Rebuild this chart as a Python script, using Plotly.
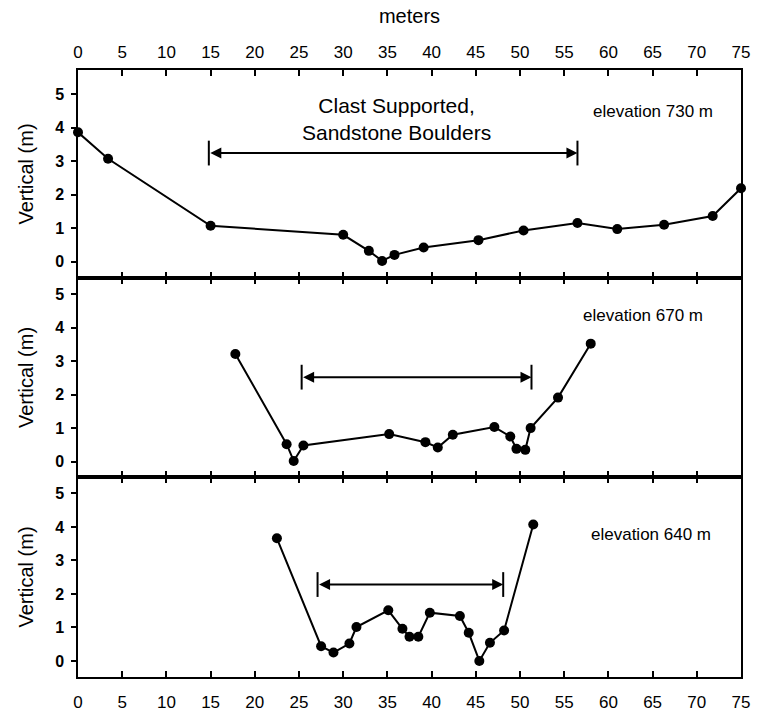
import plotly.graph_objects as go

# ---------------- data ----------------
x_730 = [0, 3.4, 15.0, 30.0, 32.9, 34.4, 35.8, 39.1, 45.3, 50.4, 56.5, 61.0, 66.3, 71.8, 75.0]
y_730 = [3.86, 3.07, 1.07, 0.80, 0.32, 0.02, 0.20, 0.42, 0.64, 0.93, 1.15, 0.97, 1.10, 1.36, 2.19]

x_670 = [17.8, 23.6, 24.4, 25.5, 35.2, 39.3, 40.7, 42.4, 47.1, 48.9, 49.6, 50.6, 51.2, 54.3, 58.0]
y_670 = [3.21, 0.52, 0.02, 0.48, 0.82, 0.58, 0.42, 0.80, 1.03, 0.75, 0.38, 0.35, 1.00, 1.91, 3.52]

x_640 = [22.5, 27.5, 28.9, 30.7, 31.5, 35.1, 36.7, 37.5, 38.5, 39.8, 43.2, 44.2, 45.4, 46.6, 48.2, 51.5]
y_640 = [3.66, 0.44, 0.25, 0.52, 1.01, 1.51, 0.96, 0.72, 0.72, 1.44, 1.34, 0.84, 0.00, 0.54, 0.91, 4.07]

panel_labels = ["elevation 730 m", "elevation 670 m", "elevation 640 m"]
label_x = [65.0, 63.9, 64.8]
label_y = [4.48, 4.35, 3.78]

bracket_start = [14.8, 25.3, 27.1]
bracket_end = [56.5, 51.3, 48.1]
bracket_y = [3.24, 2.52, 2.28]

x_ticks = list(range(0, 80, 5))
y_ticks = [0, 1, 2, 3, 4, 5]

FONT = "Liberation Sans, Arial, sans-serif"

# ---------------- figure ----------------
fig = go.Figure()

series = [(x_730, y_730), (x_670, y_670), (x_640, y_640)]
axes = [("x", "y"), ("x2", "y2"), ("x3", "y3")]

for (xs, ys), (xa, ya) in zip(series, axes):
    fig.add_trace(go.Scatter(
        x=xs, y=ys, mode="lines+markers", xaxis=xa, yaxis=ya,
        line=dict(color="black", width=2),
        marker=dict(color="black", size=10),
        cliponaxis=False, showlegend=False))

annotations = []
shapes = []
for i, (xa, ya) in enumerate(axes):
    annotations.append(dict(
        x=bracket_end[i], y=bracket_y[i], ax=bracket_start[i], ay=bracket_y[i],
        xref=xa, yref=ya, axref=xa, ayref=ya,
        text="", showarrow=True, arrowhead=2, arrowside="end+start",
        arrowsize=1.1, arrowwidth=2, arrowcolor="black",
        standoff=0, startstandoff=0))
    for end in (bracket_start[i], bracket_end[i]):
        shapes.append(dict(
            type="line", xref=xa, yref=ya,
            x0=end, x1=end, y0=bracket_y[i] - 0.37, y1=bracket_y[i] + 0.37,
            line=dict(color="black", width=2)))
    annotations.append(dict(
        x=label_x[i], y=label_y[i], xref=xa, yref=ya, text=panel_labels[i],
        showarrow=False, font=dict(family=FONT, size=17, color="black")))

annotations.append(dict(
    x=36.0, y=4.26, xref="x", yref="y",
    text="Clast Supported,<br>Sandstone Boulders", showarrow=False,
    font=dict(family=FONT, size=21, color="black")))

axis_common = dict(
    range=[0, 75], tickvals=x_ticks, ticks="inside", ticklen=6,
    tickwidth=1.5, tickcolor="black", showline=True, linecolor="black",
    linewidth=1.5, mirror="ticks", showgrid=False, zeroline=False,
    automargin=False,
    tickfont=dict(family=FONT, size=17, color="black"))

y_common = dict(
    tickvals=y_ticks, ticks="outside", ticklen=5, tickwidth=1.5,
    tickcolor="black", showline=True, linecolor="black", linewidth=1.5,
    mirror=True, showgrid=False, zeroline=False, ticklabelstandoff=4,
    automargin=False,
    tickfont=dict(family=FONT, size=16, color="black", weight="bold"),
    title=dict(text="Vertical (m)", font=dict(family=FONT, size=20, color="black"),
               standoff=16))

h = 607.0
fig.update_layout(
    width=758, height=717,
    margin=dict(l=78, r=17, t=70, b=40),
    paper_bgcolor="white", plot_bgcolor="white",
    xaxis=dict(axis_common, anchor="y", side="top", ticklabelstandoff=3,
               title=dict(text="meters", font=dict(family=FONT, size=20, color="black"),
                          standoff=14)),
    xaxis2=dict(axis_common, anchor="y2", showticklabels=False, matches="x"),
    xaxis3=dict(axis_common, anchor="y3", matches="x", ticklabelstandoff=9),
    yaxis=dict(y_common, domain=[399 / h, 1], range=[-0.49, 5.72], anchor="x"),
    yaxis2=dict(y_common, domain=[200 / h, 399 / h], range=[-0.46, 5.48], anchor="x2"),
    yaxis3=dict(y_common, domain=[0, 200 / h], range=[-0.48, 5.49], anchor="x3"),
    annotations=annotations, shapes=shapes,
)

fig.write_html("out.html")
